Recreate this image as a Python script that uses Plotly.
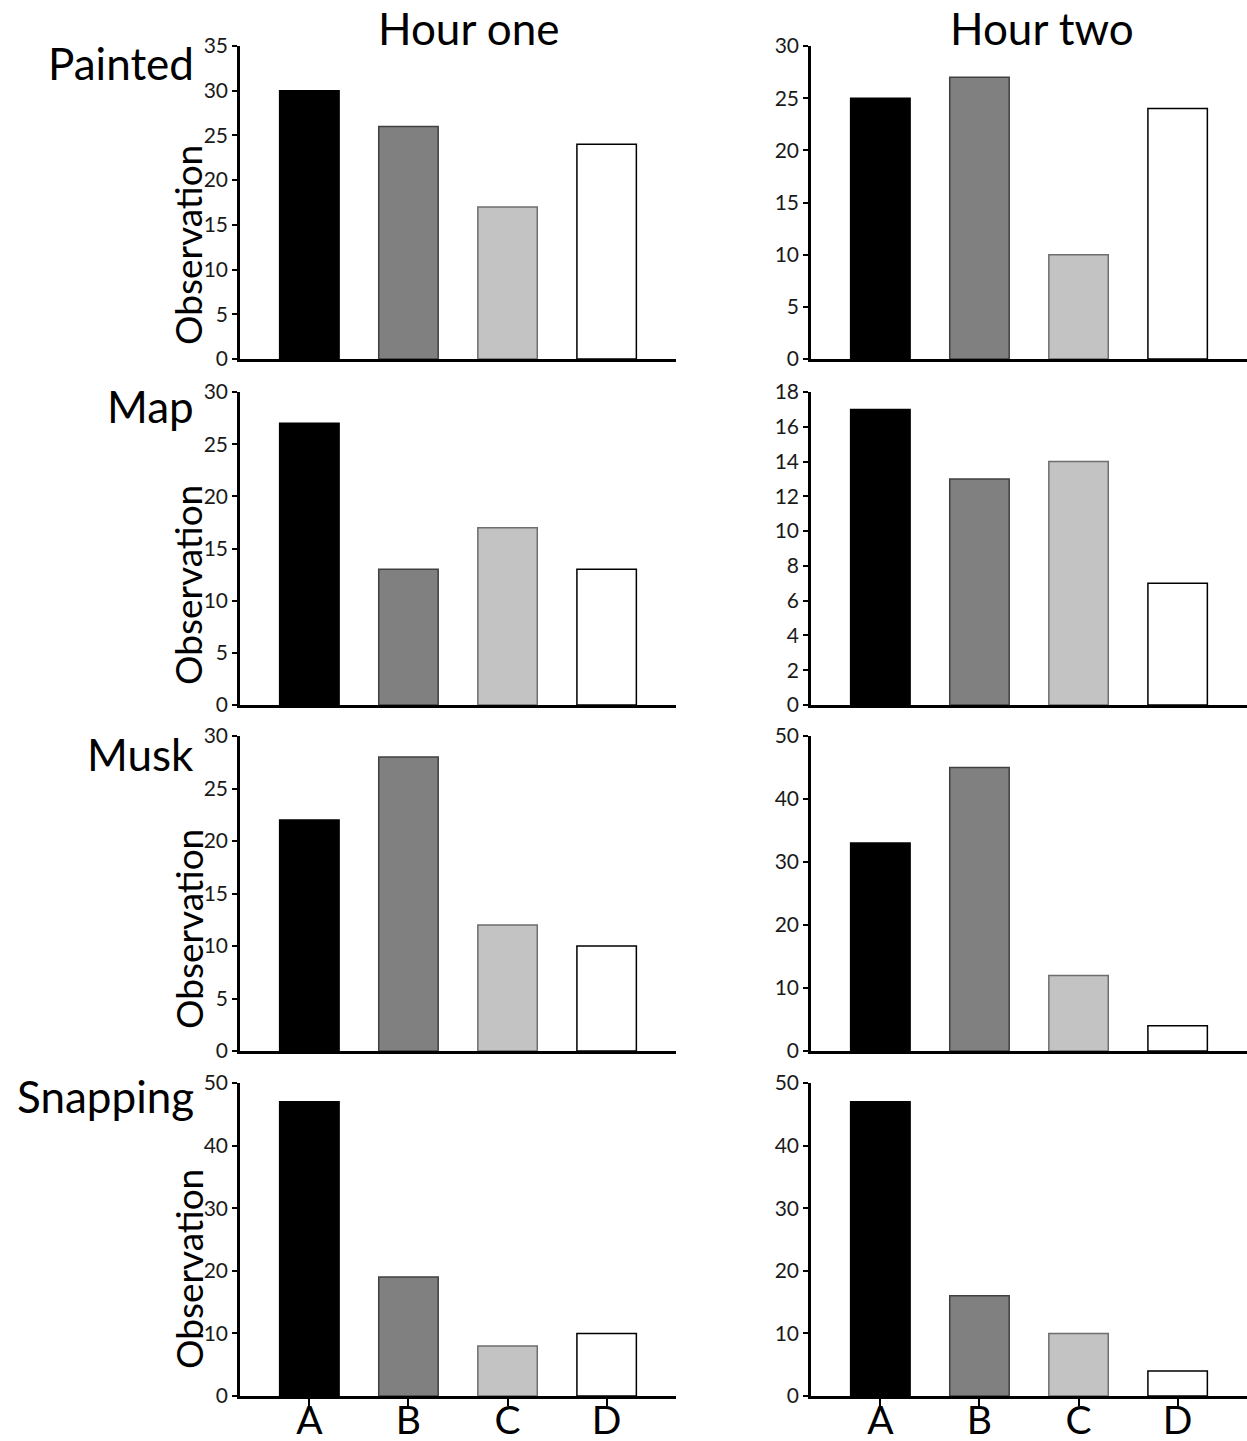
import plotly.graph_objects as go

categories = ["A", "B", "C", "D"]
species = ["Painted", "Map", "Musk", "Snapping"]
hours = ["Hour one", "Hour two"]

hour_one = {
    "Painted": [30, 26, 17, 24],
    "Map": [27, 13, 17, 13],
    "Musk": [22, 28, 12, 10],
    "Snapping": [47, 19, 8, 10],
}
hour_two = {
    "Painted": [25, 27, 10, 24],
    "Map": [17, 13, 14, 7],
    "Musk": [33, 45, 12, 4],
    "Snapping": [47, 16, 10, 4],
}
y_max_one = [35, 30, 30, 50]
y_max_two = [30, 18, 50, 50]
y_dtick_one = [5, 5, 5, 10]
y_dtick_two = [5, 2, 10, 10]

fill_colors = ["#000000", "#808080", "#c3c3c3", "#ffffff"]
line_colors = ["#000000", "#404040", "#6e6e6e", "#000000"]

W, H = 1247, 1441
FONT = "Lato"

# pixel geometry of panels
col_x = [(240, 676), (811, 1247)]
row_y = [(46, 359), (392, 705), (736, 1051), (1083, 1396)]

fig = go.Figure()
layout = {}
for r in range(4):
    for c in range(2):
        idx = r * 2 + c + 1
        sfx = "" if idx == 1 else str(idx)
        vals = (hour_one if c == 0 else hour_two)[species[r]]
        fig.add_trace(go.Bar(
            x=categories, y=vals, width=0.6,
            marker=dict(color=fill_colors, line=dict(color=line_colors, width=1.5)),
            xaxis="x" + sfx, yaxis="y" + sfx, showlegend=False,
        ))
        x0, x1 = col_x[c]
        y0, y1 = row_y[r]
        bottom = r == 3
        layout["xaxis" + sfx] = dict(
            domain=[x0 / W, x1 / W], anchor="y" + sfx, automargin=False,
            type="category", categoryorder="array", categoryarray=categories,
            range=[-0.7, 3.7], showline=True, linecolor="black", linewidth=3,
            showgrid=False, zeroline=False,
            ticks="outside" if bottom else "", ticklen=7, tickwidth=2, tickcolor="black",
            showticklabels=bottom, ticklabelstandoff=-19,
            tickfont=dict(family=FONT, size=39, color="black"),
        )
        ymax = (y_max_one if c == 0 else y_max_two)[r]
        dt = (y_dtick_one if c == 0 else y_dtick_two)[r]
        layout["yaxis" + sfx] = dict(
            domain=[1 - y1 / H, 1 - y0 / H], anchor="x" + sfx, automargin=False,
            range=[0, ymax], dtick=dt, tick0=0,
            showline=True, linecolor="black", linewidth=2.5,
            showgrid=False, zeroline=False,
            ticks="outside", ticklen=5, tickwidth=1.5, tickcolor="black",
            tickfont=dict(family=FONT, size=21, color="#1a1a1a"),
        )

annotations = []
label_y = [62.5, 405.5, 753.5, 1095.5]
for r, name in enumerate(species):
    annotations.append(dict(
        text=name, x=196 / W, y=1 - label_y[r] / H, xref="paper", yref="paper",
        xanchor="right", yanchor="middle", showarrow=False,
        font=dict(family=FONT, size=44, color="black"),
    ))
obs_y = [245, 585, 929, 1269]
for r in range(4):
    annotations.append(dict(
        text="Observation", x=188 / W, y=1 - obs_y[r] / H, xref="paper", yref="paper",
        xanchor="center", yanchor="middle", textangle=-90, showarrow=False,
        font=dict(family=FONT, size=37, color="black"),
    ))
title_x = [468, 1042]
for c, t in enumerate(hours):
    annotations.append(dict(
        text=t, x=title_x[c] / W, y=1 - 28 / H, xref="paper", yref="paper",
        xanchor="center", yanchor="middle", showarrow=False,
        font=dict(family=FONT, size=44, color="black"),
    ))

fig.update_layout(
    width=W, height=H, margin=dict(l=0, r=0, t=0, b=0, autoexpand=False),
    paper_bgcolor="white", plot_bgcolor="white",
    bargap=0.4, annotations=annotations, **layout,
)
fig.write_html("out.html")
